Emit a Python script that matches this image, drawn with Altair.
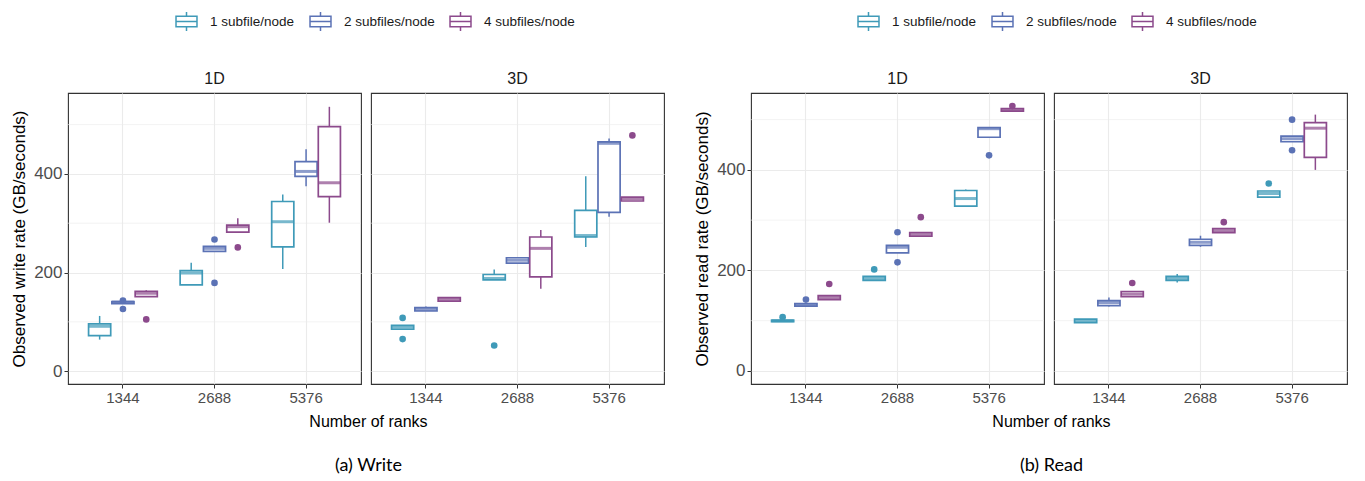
import altair as alt
import pandas as pd

ranks = ["1344", "2688", "5376"]
layouts = ["1 subfile/node", "2 subfiles/node", "4 subfiles/node"]
colors = ["#3F9AB8", "#5B72B5", "#8C4A8C"]

# box statistics, ordered rank by rank, layout by layout (9 values each)
w1d_lo = [64, 137, 151, 175, 243, 282, 207, 375, 301]
w1d_q1 = [72, 137, 151, 175, 243, 282, 252, 395, 354]
w1d_med = [91, 140, 158, 199, 249, 293, 303, 405, 382]
w1d_q3 = [96, 141, 162, 204, 253, 296, 344, 425, 496]
w1d_hi = [112, 141, 164, 220, 253, 310, 358, 450, 536]
w1d_out = [("1344", 1, 143), ("1344", 1, 126), ("1344", 2, 105),
           ("2688", 1, 267), ("2688", 1, 179), ("2688", 2, 251)]

w3d_lo = [85, 122, 142, 185, 219, 167, 252, 313, 345]
w3d_q1 = [85, 122, 142, 185, 219, 191, 272, 322, 345]
w3d_med = [89, 125, 146, 188, 225, 249, 275, 462, 350]
w3d_q3 = [93, 129, 149, 196, 230, 272, 326, 465, 353]
w3d_hi = [93, 131, 149, 206, 230, 286, 395, 472, 353]
w3d_out = [("1344", 0, 108), ("1344", 0, 65), ("2688", 0, 52), ("5376", 2, 478)]

r1d_lo = [98, 129, 142, 180, 235, 268, 328, 465, 517]
r1d_q1 = [98, 129, 142, 180, 235, 268, 328, 465, 517]
r1d_med = [100, 132, 146, 184, 246, 271, 343, 482, 520]
r1d_q3 = [101, 134, 150, 188, 250, 275, 359, 484, 522]
r1d_hi = [101, 134, 150, 188, 250, 275, 361, 484, 522]
r1d_out = [("1344", 0, 107), ("1344", 1, 142), ("1344", 2, 173),
           ("2688", 0, 202), ("2688", 1, 276), ("2688", 1, 216), ("2688", 2, 306),
           ("5376", 1, 429), ("5376", 2, 527)]

r3d_lo = [96, 128, 148, 176, 247, 275, 346, 456, 400]
r3d_q1 = [96, 130, 148, 180, 250, 275, 346, 456, 425]
r3d_med = [100, 136, 153, 184, 256, 279, 353, 462, 483]
r3d_q3 = [103, 140, 158, 188, 262, 283, 358, 467, 494]
r3d_hi = [103, 146, 158, 193, 269, 283, 358, 467, 510]
r3d_out = [("1344", 2, 175), ("2688", 2, 296), ("5376", 0, 373),
           ("5376", 1, 500), ("5376", 1, 439)]

minor_grid = [100, 300, 500]
major_ticks = [0, 200, 400]

PW, PH = 293, 291
FONT = "Liberation Sans"


def box_df(lo, q1, med, q3, hi):
    rows = []
    i = 0
    for r in ranks:
        for l in layouts:
            rows.append(dict(ranks=r, layout=l, lo=lo[i], q1=q1[i], med=med[i], q3=q3[i], hi=hi[i]))
            i += 1
    return pd.DataFrame(rows)


def out_df(out):
    return pd.DataFrame([dict(ranks=r, layout=layouts[k], v=v) for r, k, v in out])


# legend scale, plus an equivalent scale (same mapping, other domain order) for the
# marks that must not take part in the legend
cscale = alt.Scale(domain=layouts, range=colors)
cscale_nolegend = alt.Scale(domain=layouts[::-1], range=colors[::-1])
box_path = "M-1,-0.5H1V0.5H-1Z M-1,0H1 M0,-0.5V-0.9 M0,0.5V0.9"


def panel(bdf, odf, dim, show_y, ytitle, ydomain, legend):
    xenc = alt.X("ranks:N", sort=ranks,
                 scale=alt.Scale(domain=ranks, paddingInner=0, paddingOuter=0.1),
                 axis=alt.Axis(title=None, labelAngle=0, grid=True, bandPosition=0.5,
                               gridColor="#EBEBEB", gridWidth=1.1, labelFontSize=15))
    xoff = alt.XOffset("layout:N", scale=alt.Scale(domain=layouts, paddingInner=0.05, paddingOuter=0.49))
    yaxis = alt.Axis(title=ytitle if show_y else None, values=major_ticks, grid=True,
                     gridColor="#EBEBEB", gridWidth=1.1, labelFontSize=17,
                     titleFontSize=17, titlePadding=5,
                     labels=show_y, ticks=show_y)
    ysc = alt.Scale(domain=ydomain, nice=False, zero=False)

    minor = alt.Chart(pd.DataFrame({"v": minor_grid})).mark_rule(
        color="#EBEBEB", strokeWidth=0.6).encode(
        y=alt.Y("v:Q", scale=ysc, axis=yaxis))
    base = alt.Chart(bdf).encode(x=xenc, xOffset=xoff)
    whisk = base.mark_rule(strokeWidth=1.5).encode(
        y=alt.Y("lo:Q", scale=ysc, axis=yaxis), y2="hi:Q",
        color=alt.Color("layout:N", scale=cscale, legend=legend))
    box = base.mark_bar(fill="white", strokeWidth=1.7).encode(
        y=alt.Y("q1:Q", scale=ysc, axis=yaxis), y2="q3:Q",
        stroke=alt.Stroke("layout:N", scale=cscale_nolegend, legend=None))
    med = base.mark_tick(thickness=3, size=22).encode(
        y=alt.Y("med:Q", scale=ysc, axis=yaxis),
        fill=alt.Fill("layout:N", scale=cscale_nolegend, legend=None))
    pts = alt.Chart(odf).mark_circle(size=44, opacity=1).encode(
        x=xenc, xOffset=xoff,
        y=alt.Y("v:Q", scale=ysc, axis=yaxis),
        fill=alt.Fill("layout:N", scale=cscale_nolegend, legend=None))
    return alt.layer(minor, whisk, box, med, pts).properties(
        width=PW, height=PH,
        title=alt.TitleParams(dim, fontSize=16, font=FONT, fontWeight="normal", color="#1A1A1A", offset=6))


def group(panels_data, ytitle, ydomain, caption, lx):
    legend = alt.Legend(title=None, orient="none", legendX=lx, legendY=-83, direction="horizontal",
                        symbolType=box_path, symbolSize=440, symbolStrokeWidth=1.5,
                        symbolFillColor="white",
                        labelFontSize=13.5, labelFont=FONT,
                        labelColor="#1A1A1A", columnPadding=12, labelOffset=12, symbolOffset=0)
    ps = []
    for i, (bdf, odf, dim) in enumerate(panels_data):
        ps.append(panel(bdf, odf, dim, i == 0, ytitle, ydomain, legend))
    return alt.hconcat(*ps, spacing=8).properties(
        title=alt.TitleParams("Number of ranks", subtitle=caption, orient="bottom", anchor="middle",
                              fontSize=16, font=FONT, fontWeight="normal", color="#000000",
                              subtitleFontSize=18, subtitleFont="Lato", subtitleColor="#000000",
                              subtitlePadding=27, offset=8, dx=31))


gW = group([(box_df(w1d_lo, w1d_q1, w1d_med, w1d_q3, w1d_hi), out_df(w1d_out), "1D"),
            (box_df(w3d_lo, w3d_q1, w3d_med, w3d_q3, w3d_hi), out_df(w3d_out), "3D")],
           "Observed write rate (GB/seconds)", [-26, 564], "(a) Write", 107)
gR = group([(box_df(r1d_lo, r1d_q1, r1d_med, r1d_q3, r1d_hi), out_df(r1d_out), "1D"),
            (box_df(r3d_lo, r3d_q1, r3d_med, r3d_q3, r3d_hi), out_df(r3d_out), "3D")],
           "Observed read rate (GB/seconds)", [-26, 553], "(b) Read", 106)

chart = alt.hconcat(gW, gR, spacing=28).resolve_scale(
    color="independent", y="independent", stroke="independent", fill="independent"
).configure(background="white",
            padding={"left": 2, "top": 2, "right": 5, "bottom": 0}).configure_view(
    stroke="#333333", strokeWidth=1.1
).configure_axis(
    domain=False, tickColor="#333333", tickSize=4, labelColor="#4D4D4D", labelFontSize=15,
    labelFont=FONT, titleFont=FONT, titleFontSize=16, titleColor="#000000",
    titleFontWeight="normal", labelPadding=2
)

chart.save("out.html", embed_options={"renderer": "svg", "actions": False})
